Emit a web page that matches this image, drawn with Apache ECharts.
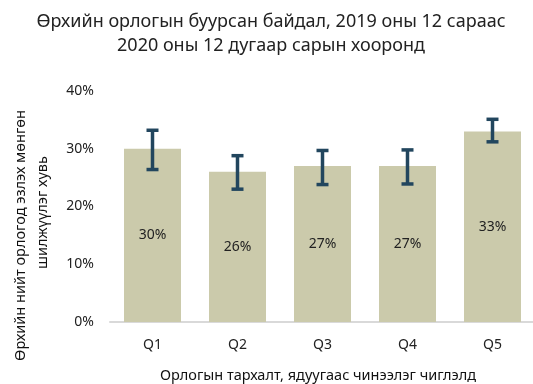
<!DOCTYPE html>
<html>
<head>
<meta charset="utf-8">
<script src="https://cdn.jsdelivr.net/npm/echarts@6/dist/echarts.min.js"></script>
<style>
  html, body { margin: 0; padding: 0; background: #fff; }
  #chart { width: 533px; height: 384px; }
</style>
</head>
<body>
<div id="chart"></div>
<script>
// Income quintiles and share of households whose income fell (%)
const quintiles = ['Q1', 'Q2', 'Q3', 'Q4', 'Q5'];
const shareValues = [30, 26, 27, 27, 33];
// Confidence interval bounds (%)
const ciLow = [26.4, 23.0, 23.8, 23.9, 31.2];
const ciHigh = [33.2, 28.8, 29.7, 29.8, 35.1];
const yTicks = [0, 10, 20, 30, 40];

const font = 'Noto Sans';
const chart = echarts.init(document.getElementById('chart'));

const errorData = quintiles.map((q, i) => [i, ciLow[i], ciHigh[i]]);

chart.setOption({
  animation: false,
  textStyle: { fontFamily: font },
  title: {
    text: 'Өрхийн орлогын буурсан байдал, 2019 оны 12 сараас\n2020 оны 12 дугаар сарын хооронд',
    left: 266,
    top: 5,
    textAlign: 'center',
    textStyle: { fontFamily: font, fontSize: 18, fontWeight: 'normal', color: '#222', lineHeight: 24 }
  },
  grid: { left: 110, top: 91, width: 425, height: 231, outerBoundsMode: 'none', containLabel: false },
  xAxis: {
    type: 'category',
    data: quintiles,
    name: 'Орлогын тархалт, ядуугаас чинээлэг чиглэлд',
    nameLocation: 'middle',
    nameGap: 46,
    nameTextStyle: { fontFamily: font, fontSize: 14.5, color: '#111', padding: [0, 9, 0, 0] },
    axisLine: { lineStyle: { color: '#d9d9d9', width: 2 } },
    axisTick: { show: false },
    axisLabel: { fontFamily: font, fontSize: 14, color: '#222', margin: 16 }
  },
  yAxis: {
    type: 'value',
    min: yTicks[0],
    max: yTicks[yTicks.length - 1],
    interval: 10,
    name: '{a|Өрхийн нийт орлогод эзлэх мөнгөн}\n{b|шилжүүлэг хувь}',
    nameLocation: 'middle',
    nameGap: 56,
    nameTextStyle: {
      fontFamily: font, fontSize: 14.5, color: '#111', lineHeight: 22, padding: [0, 58, 0, 0],
      rich: {
        a: { fontFamily: font, fontSize: 14.5, color: '#111', lineHeight: 22 },
        b: { fontFamily: font, fontSize: 14.5, color: '#111', lineHeight: 22, padding: [0, 0, 0, 46] }
      }
    },
    axisLine: { show: false },
    axisTick: { show: false },
    splitLine: { show: false },
    axisLabel: { fontFamily: font, fontSize: 14, color: '#222', margin: 16, formatter: '{value}%' }
  },
  series: [
    {
      type: 'bar',
      data: shareValues,
      barWidth: 57,
      itemStyle: { color: '#cbcaab' },
      label: {
        show: true,
        position: 'inside',
        formatter: '{c}%',
        fontFamily: font,
        fontSize: 14,
        color: '#222'
      }
    },
    {
      type: 'custom',
      data: errorData,
      z: 10,
      renderItem: function (params, api) {
        const x = api.value(0);
        const lo = api.coord([x, api.value(1)]);
        const hi = api.coord([x, api.value(2)]);
        const half = 6;
        const style = { stroke: '#22465e', lineWidth: 3.5 };
        return {
          type: 'group',
          children: [
            { type: 'line', shape: { x1: lo[0], y1: lo[1], x2: hi[0], y2: hi[1] }, style: style },
            { type: 'line', shape: { x1: lo[0] - half, y1: lo[1], x2: lo[0] + half, y2: lo[1] }, style: style },
            { type: 'line', shape: { x1: hi[0] - half, y1: hi[1], x2: hi[0] + half, y2: hi[1] }, style: style }
          ]
        };
      }
    }
  ]
});
</script>
</body>
</html>
